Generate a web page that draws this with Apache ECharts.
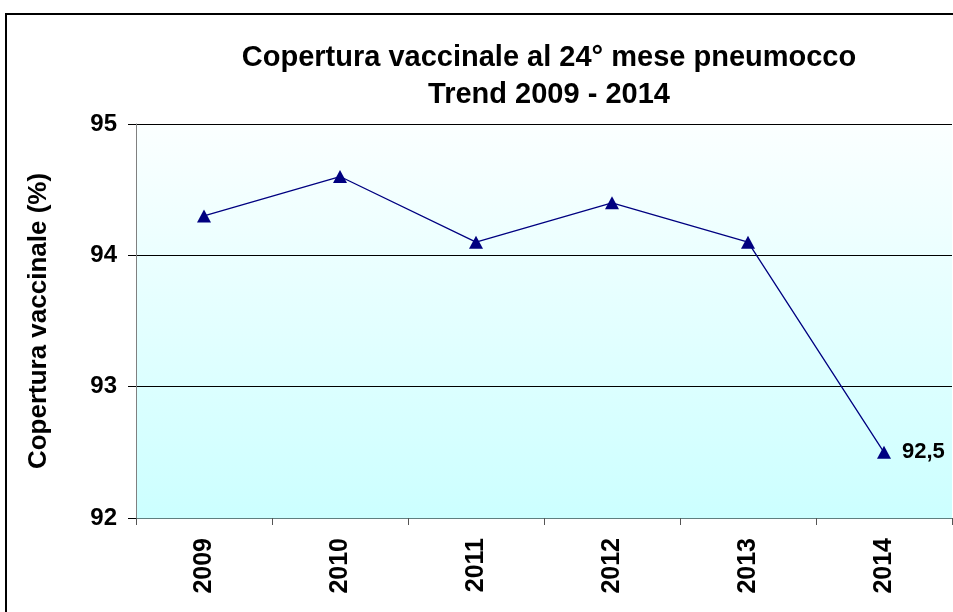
<!DOCTYPE html>
<html>
<head>
<meta charset="utf-8">
<script src="https://cdn.jsdelivr.net/npm/echarts@6/dist/echarts.min.js"></script>
<style>
html, body { margin: 0; padding: 0; background: #fff; }
#chart { width: 953px; height: 612px; }
</style>
</head>
<body>
<div id="chart"></div>
<script>
var years = ['2009', '2010', '2011', '2012', '2013', '2014'];
var coverage = [94.3, 94.6, 94.1, 94.4, 94.1, 92.5];
var yTicks = [92, 93, 94, 95];

var font = 'Liberation Sans, Arial, sans-serif';
var chart = echarts.init(document.getElementById('chart'));

var option = {
    animation: false,
    backgroundColor: '#fff',
    title: {
        text: 'Copertura vaccinale al 24° mese pneumocco\nTrend 2009 - 2014',
        left: 544,
        top: 34,
        textAlign: 'center',
        textStyle: { fontFamily: font, fontSize: 29, fontWeight: 'bold', color: '#000', lineHeight: 37 }
    },
    graphic: [{
        type: 'rect',
        shape: { x: 6, y: 14, width: 960, height: 620 },
        style: { fill: 'none', stroke: '#000', lineWidth: 2 },
        z: 100
    }],
    grid: {
        left: 136, right: 1, top: 124, bottom: 94,
        show: true,
        borderWidth: 0,
        backgroundColor: new echarts.graphic.LinearGradient(0, 0, 0, 1, [
            { offset: 0, color: '#fbffff' },
            { offset: 1, color: '#ccffff' }
        ])
    },
    xAxis: {
        type: 'category',
        data: years,
        boundaryGap: true,
        axisLine: { lineStyle: { color: '#5f7f7f', width: 1 } },
        axisTick: { show: true, length: 7, lineStyle: { color: '#555' } },
        axisLabel: { rotate: 90, margin: 20, fontFamily: font, fontSize: 25, fontWeight: 'bold', color: '#000' }
    },
    yAxis: {
        type: 'value',
        min: yTicks[0],
        max: yTicks[yTicks.length - 1],
        interval: 1,
        name: 'Copertura vaccinale (%)',
        nameLocation: 'middle',
        nameGap: 84,
        nameTextStyle: { fontFamily: font, fontSize: 26, fontWeight: 'bold', color: '#000' },
        axisLine: { show: true, lineStyle: { color: '#808080', width: 1 } },
        axisTick: { show: true, length: 8, lineStyle: { color: '#000' } },
        splitLine: { show: true, lineStyle: { color: '#000', width: 1 } },
        axisLabel: { margin: 19, fontFamily: font, fontSize: 24, fontWeight: 'bold', color: '#000' }
    },
    series: [{
        type: 'line',
        data: coverage.map(function (v, i) {
            var d = { value: v };
            if (i === coverage.length - 1) {
                d.label = {
                    show: true, position: 'right', distance: 11,
                    formatter: function (p) { return String(p.value).replace('.', ','); },
                    fontFamily: font, fontSize: 22, fontWeight: 'bold', color: '#000'
                };
            }
            return d;
        }),
        symbol: 'triangle',
        symbolSize: [14, 13],
        lineStyle: { color: '#000080', width: 1.3 },
        itemStyle: { color: '#000080' }
    }]
};
chart.setOption(option);
</script>
</body>
</html>
